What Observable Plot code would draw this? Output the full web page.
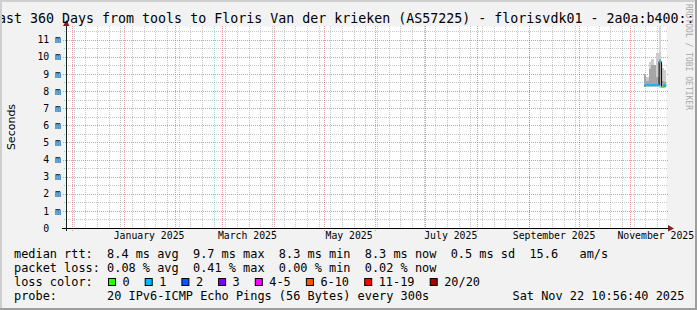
<!DOCTYPE html>
<html><head><meta charset="utf-8">
<script src="https://cdn.jsdelivr.net/npm/d3@7"></script>
<script src="https://cdn.jsdelivr.net/npm/@observablehq/plot@0.6"></script>
<style>
html,body{margin:0;padding:0;background:#f2f2f2;}
#chart{width:697px;height:310px;overflow:hidden;}
#chart svg text{white-space:pre;}
</style></head><body><div id="chart"></div>
<script>
// ---- data ----
const titleText = "Last 360 Days from tools to Floris Van der krieken (AS57225) - florisvdk01 - 2a0a:b400::1";
const yAxisTitle = "Seconds";
const watermark = "RRDTOOL / TOBI OETIKER";
const rangeStart = "2024-11-27T10:56:40Z";
const rangeEnd = "2025-11-22T10:56:40Z";

const sampleStart = ["2025-11-09T00:00:00Z","2025-11-10T12:00:00Z","2025-11-12T00:00:00Z","2025-11-13T12:00:00Z","2025-11-15T00:00:00Z","2025-11-16T12:00:00Z","2025-11-18T00:00:00Z","2025-11-19T12:00:00Z","2025-11-21T00:00:00Z"];
const medianMs    = [8.37, 8.37, 8.37, 8.37, 8.37, 8.37, 9.75, 8.28, 8.36];
const lossBucket  = [1, 1, 1, 1, 1, 1, 1, 0, 1];
const innerLowMs  = [8.26, 8.28, 8.28, 8.28, 8.28, 8.28, 8.30, 8.22, 8.24];
const innerHighMs = [9.02, 8.60, 9.30, 9.50, 9.55, 8.80, 9.90, 8.60, 8.50];
const outerLowMs  = [8.22, 8.22, 8.22, 8.22, 8.22, 8.22, 8.20, 8.18, 8.20];
const outerHighMs = [9.02, 8.83, 9.71, 9.90, 9.55, 10.20, 10.30, 9.32, 9.25];
const peakHighMs  = [9.02, 8.83, 9.71, 9.90, 9.55, 10.20, 12.50, 9.32, 9.25];

const yTickValues = [0, 1, 2, 3, 4, 5, 6, 7, 8, 9, 10, 11];
const yTickLabels = ["0\u00a0\u00a0", "1 m", "2 m", "3 m", "4 m", "5 m", "6 m", "7 m", "8 m", "9 m", "10 m", "11 m"];
const xLabelDates = ["2025-01-16T00:00:00Z","2025-03-16T00:00:00Z","2025-05-16T00:00:00Z","2025-07-16T00:00:00Z","2025-09-16T00:00:00Z","2025-11-16T00:00:00Z"];
const xLabelTexts = ["January 2025","March 2025","May 2025","July 2025","September 2025","November 2025"];

const rttStats  = ["8.4 ms avg", "9.7 ms max", "8.3 ms min", "8.3 ms now", "0.5 ms sd", "15.6   am/s"];
const lossStats = ["0.08 % avg", "0.41 % max", "0.00 % min", "0.02 % now"];
const lossLabels = ["0", "1", "2", "3", "4-5", "6-10", "11-19", "20/20"];
const lossColors = ["#26ff00", "#00b8ff", "#0059ff", "#7e00ff", "#ff00ff", "#ff5500", "#ff0000", "#a10000"];
const probeText = "20 IPv6-ICMP Echo Pings (56 Bytes) every 300s";
const stampText = "Sat Nov 22 10:56:40 2025";

// ---- build ----
const t0 = new Date(rangeStart), t1 = new Date(rangeEnd);
const rows = sampleStart.map((s, i) => ({
  t1: new Date(s), t2: new Date(sampleStart[i + 1] ?? rangeEnd),
  med: medianMs[i], loss: lossBucket[i],
  il: innerLowMs[i], ih: innerHighMs[i], ol: outerLowMs[i], oh: outerHighMs[i], ph: peakHighMs[i]
}));
const steps = rows.slice(0, -1).map((r, i) => ({t: r.t2, a: r.med, b: rows[i + 1].med}));
const weekTicks = d3.utcMonday.range(t0, t1);
const monthTicks = d3.utcMonth.range(t0, t1);
const minorY = yTickValues.map(v => v + 0.5);
const xLabels = xLabelDates.map((d, i) => ({t: new Date(d), label: xLabelTexts[i]}));
const yLabels = yTickValues.map((v, i) => ({v, label: yTickLabels[i]}));

const W = 697, H = 310;
const mono = "'DejaVu Sans Mono', monospace";
const gridGrey = {stroke: "#8f8f8f", strokeOpacity: 0.5, strokeDasharray: "1,1", shapeRendering: "crispEdges"};
const gridRed = {stroke: "#de4f4f", strokeOpacity: 0.6, strokeDasharray: "1,1", shapeRendering: "crispEdges"};

const chart = Plot.plot({
  width: W, height: H,
  marginLeft: 66, marginRight: 31, marginTop: 26, marginBottom: 82,
  style: {background: "#f2f2f2", fontFamily: mono, fontSize: "9.8px", color: "#000", overflow: "visible"},
  x: {type: "utc", domain: [t0, t1], axis: null},
  y: {domain: [0, 11.8], axis: null},
  marks: [
    Plot.frame({fill: "#ffffff", stroke: null}),
    Plot.ruleX(weekTicks, {...gridGrey, insetBottom: -2}),
    Plot.ruleY(minorY.filter(v => v < 11.8), {...gridGrey, insetLeft: -2, insetRight: -2}),
    Plot.ruleX(monthTicks, {...gridRed, insetBottom: -3}),
    Plot.ruleY(yTickValues.slice(1), {...gridRed, insetLeft: -3, insetRight: -2}),
    Plot.rect(rows, {x1: "t1", x2: "t2", y1: "ol", y2: "ph", fill: "#d9d9d9", clip: true, shapeRendering: "crispEdges"}),
    Plot.rect(rows, {x1: "t1", x2: "t2", y1: "ol", y2: "oh", fill: "#cccccc", clip: true, shapeRendering: "crispEdges"}),
    Plot.rect(rows, {x1: "t1", x2: "t2", y1: "il", y2: "ih", fill: "#a6a6a6", clip: true, shapeRendering: "crispEdges"}),
    Plot.link(steps, {x1: "t", x2: "t", y1: "a", y2: "b", stroke: "#000", strokeWidth: 1}),
    Plot.link(rows, {x1: "t1", x2: "t2", y1: "med", y2: "med", stroke: d => lossColors[d.loss], strokeWidth: 2}),
    Plot.ruleY([0], {stroke: "#000", insetLeft: -4, insetRight: -2, shapeRendering: "crispEdges"}),
    Plot.ruleX([t0], {stroke: "#1f1f1f", insetTop: -3, insetBottom: -3, shapeRendering: "crispEdges"}),
    Plot.text(yLabels, {y: "v", text: "label", frameAnchor: "left", textAnchor: "end", dx: -5.5, fill: "#000"}),
    Plot.text(xLabels, {x: "t", text: "label", frameAnchor: "bottom", dy: 10, fill: "#000"})
  ]
});
document.getElementById("chart").appendChild(chart);

const svg = d3.select(chart);
const xs = chart.scale("x"), ys = chart.scale("y");
const xEnd = xs.apply(t1) + 2, yZero = ys.apply(0), xAxis = xs.apply(t0), yTop = ys.apply(11.8);
// arrows
svg.append("path").attr("d", `M${xEnd},${yZero - 3}L${xEnd + 6},${yZero + 0.5}L${xEnd},${yZero + 3.5}Z`).attr("fill", "#801f1f");
svg.append("path").attr("d", `M${xAxis - 3},${yTop}L${xAxis + 0.5},${yTop - 6}L${xAxis + 3.5},${yTop}Z`).attr("fill", "#801f1f");

const txt = (x, y, s, size, family) => svg.append("text").attr("x", x).attr("y", y)
  .attr("text-anchor", "start").attr("font-family", family || mono).attr("font-size", size).attr("fill", "#000").text(s);

// title
txt(-10, 23, titleText, 13.3);
// y title
svg.append("text").attr("transform", `translate(15,${(yTop + yZero) / 2}) rotate(-90)`).attr("text-anchor", "middle")
  .attr("font-family", "'DejaVu Sans', sans-serif").attr("font-size", 11).attr("fill", "#000").text(yAxisTitle);
// watermark
svg.append("text").attr("transform", "translate(685.5,4) rotate(90)").attr("text-anchor", "start").attr("font-family", mono).attr("font-size", 8)
  .attr("fill", "#a8a8a8").text(watermark);

// legend rows
const lx = 14, fs = 11.9;
txt(lx, 257.5, "median rtt:  " + rttStats.join("  "), fs);
txt(lx, 271.5, "packet loss: " + lossStats.join("  "), fs);
txt(lx, 285.5, "loss color:", fs);
txt(lx, 299.5, "probe:       " + probeText, fs);
txt(512.5, 299.5, stampText, fs);
let bx = 108.5;
lossLabels.forEach((lab, i) => {
  svg.append("rect").attr("x", bx).attr("y", 278.5).attr("width", 7).attr("height", 7).attr("fill", lossColors[i]).attr("stroke", "#000").attr("stroke-width", 1);
  txt(bx + 14, 285.5, lab, fs);
  bx += 29.5 + lab.length * 7.2;
});

// outer border (rrdtool shade)
svg.append("rect").attr("x", 0).attr("y", 0).attr("width", W).attr("height", 2).attr("fill", "#cfcfcf");
svg.append("rect").attr("x", 0).attr("y", 0).attr("width", 2).attr("height", H).attr("fill", "#cfcfcf");
svg.append("rect").attr("x", W - 2).attr("y", 0).attr("width", 2).attr("height", H).attr("fill", "#9e9e9e");
svg.append("rect").attr("x", 0).attr("y", H - 2).attr("width", W).attr("height", 2).attr("fill", "#9e9e9e");
</script>
</body></html>
